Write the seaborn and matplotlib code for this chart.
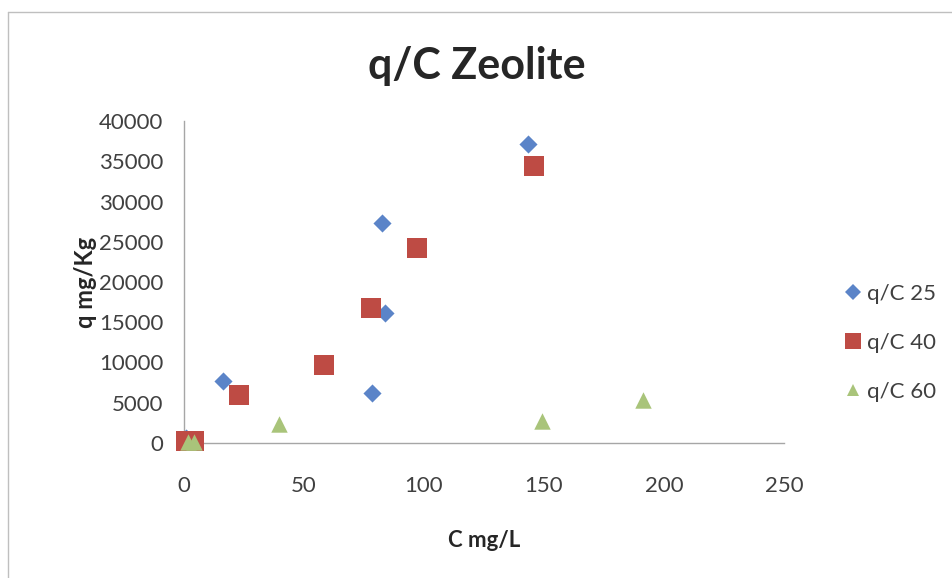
import matplotlib
matplotlib.use("Agg")
import matplotlib.pyplot as plt
from matplotlib.lines import Line2D
import seaborn as sns
import pandas as pd

# Isotherm data: equilibrium concentration C (mg/L) vs uptake q (mg/Kg)
c_25 = [0.8, 16.4, 78.2, 82.4, 83.8, 143.3]
q_25 = [600, 7650, 6200, 27350, 16200, 37150]

c_40 = [1.0, 4.2, 23.0, 58.5, 77.8, 97.2, 145.9]
q_40 = [300, 250, 5950, 9750, 16800, 24250, 34400]

c_60 = [1.5, 4.0, 39.7, 149.0, 191.1]
q_60 = [150, 100, 2400, 2700, 5350]

series_names = ["q/C 25", "q/C 40", "q/C 60"]
x_ticks = [0, 50, 100, 150, 200, 250]
y_ticks = [0, 5000, 10000, 15000, 20000, 25000, 30000, 35000, 40000]

df = pd.concat([
    pd.DataFrame({"C": c_25, "q": q_25, "series": series_names[0]}),
    pd.DataFrame({"C": c_40, "q": q_40, "series": series_names[1]}),
    pd.DataFrame({"C": c_60, "q": q_60, "series": series_names[2]}),
], ignore_index=True)

sns.set_style("white")
plt.rcParams["font.family"] = ["Lato", "DejaVu Sans"]

colors = {"q/C 25": "#5B84C8", "q/C 40": "#BE4B44", "q/C 60": "#A9C47A"}
markers = {"q/C 25": "D", "q/C 40": "s", "q/C 60": "^"}
sizes = {"q/C 25": 85, "q/C 40": 210, "q/C 60": 140}

fig = plt.figure(figsize=(9.53, 5.78), dpi=100)
ax = fig.add_axes([184 / 953, 1 - 443 / 578, 600 / 953, 322 / 578])

for name in series_names:
    sub = df[df["series"] == name]
    sns.scatterplot(data=sub, x="C", y="q", ax=ax, color=colors[name],
                    marker=markers[name], s=sizes[name], linewidth=0,
                    clip_on=False, zorder=3, legend=False)

ax.set_xlim(0, 250)
ax.set_ylim(0, 40000)
ax.set_xticks(x_ticks)
ax.set_yticks(y_ticks)
ax.set_xticklabels([str(v) for v in x_ticks])
ax.set_yticklabels([str(v) for v in y_ticks])

axis_gray = "#A6A6A6"
for side in ["top", "right"]:
    ax.spines[side].set_visible(False)
for side in ["left", "bottom"]:
    ax.spines[side].set_color(axis_gray)
    ax.spines[side].set_linewidth(1.0)
ax.tick_params(axis="both", which="major", direction="out", length=4,
               width=1.0, color=axis_gray, labelsize=16,
               labelcolor="#404040", pad=11)
ax.tick_params(axis="x", pad=20)

ax.set_xlabel("C mg/L", fontsize=16, fontweight="bold", color="#262626",
              labelpad=24)
ax.set_ylabel("q mg/Kg", fontsize=17, fontweight="bold", color="#262626",
              labelpad=1)
fig.text(477 / 953, 1 - 66 / 578, "q/C Zeolite", ha="center", va="center",
         fontsize=31, fontweight="bold", color="#262626")

handles = [Line2D([0], [0], linestyle="none", marker=markers[n],
                  markerfacecolor=colors[n], markeredgewidth=0,
                  markersize={"q/C 25": 8, "q/C 40": 12, "q/C 60": 9}[n])
           for n in series_names]
fig.legend(handles, series_names, loc="center left",
           bbox_to_anchor=(833 / 953, 1 - 343 / 578), frameon=False,
           fontsize=16, labelspacing=1.3, handlelength=0.8,
           handletextpad=0.25, borderpad=0, labelcolor="#404040")

# chart-area border
border = "#BFBFBF"
fig.add_artist(Line2D([8 / 953, 8 / 953], [0, 1 - 12 / 578],
                      transform=fig.transFigure, color=border, lw=1))
fig.add_artist(Line2D([8 / 953, 1], [1 - 12 / 578, 1 - 12 / 578],
                      transform=fig.transFigure, color=border, lw=1))

fig.savefig("out.png", dpi=100, facecolor="white")
